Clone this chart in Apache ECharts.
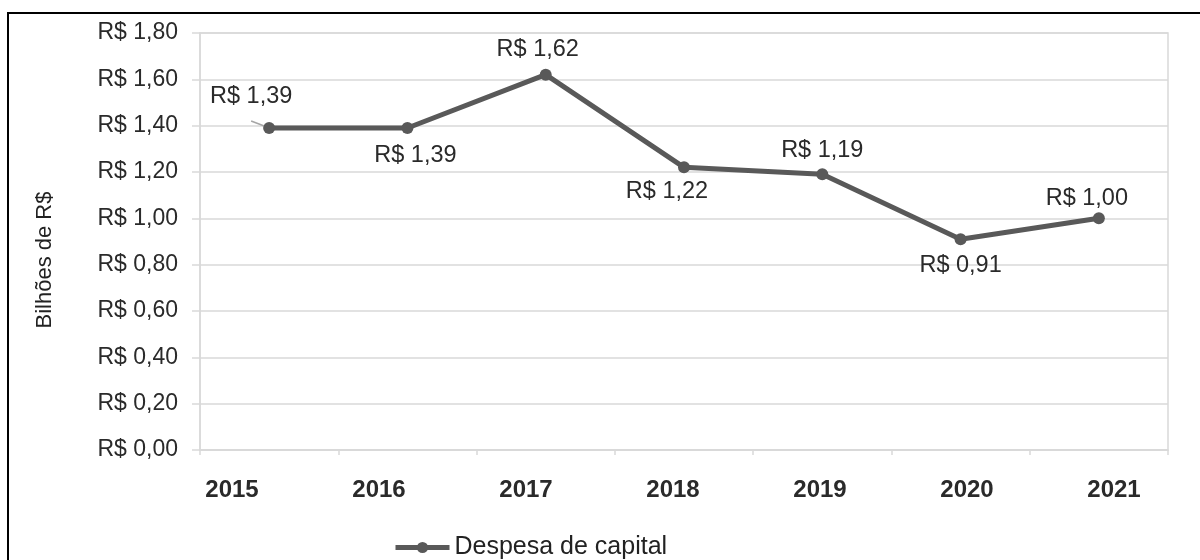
<!DOCTYPE html>
<html>
<head>
<meta charset="utf-8">
<script src="https://cdn.jsdelivr.net/npm/echarts@6/dist/echarts.min.js"></script>
<style>
html,body{margin:0;padding:0;background:#fff;}
#chart{width:1200px;height:560px;}
</style>
</head>
<body>
<div id="chart"></div>
<script>
const categories = ['2015', '2016', '2017', '2018', '2019', '2020', '2021'];
const despesaCapital = [1.39, 1.39, 1.62, 1.22, 1.19, 0.91, 1.00];
const seriesName = 'Despesa de capital';
const yAxisTitle = 'Bilhões de R$';
const yMin = 0, yMax = 1.8, yStep = 0.2;

const FONT = "'Liberation Sans', Arial, sans-serif";
const fmt = v => 'R$ ' + v.toFixed(2).replace('.', ',');

// label placement per point (style only)
const labelPlacement = [
  { position: 'top', offset: [-18, -8] },
  { position: 'bottom', offset: [8, 5] },
  { position: 'top', offset: [-8, -2] },
  { position: 'bottom', offset: [-17, 1] },
  { position: 'top', offset: [0, -1] },
  { position: 'bottom', offset: [0, 3] },
  { position: 'top', offset: [-12, 3] }
];

const chart = echarts.init(document.getElementById('chart'), null, { renderer: 'canvas' });

const seriesData = despesaCapital.map((v, i) => ({
  value: v,
  label: {
    position: labelPlacement[i].position,
    offset: labelPlacement[i].offset
  },
  labelLine: i === 0 ? { show: true, lineStyle: { color: '#a6a6a6', width: 1.5 } } : { show: false }
}));

chart.setOption({
  animation: false,
  backgroundColor: '#fff',
  textStyle: { fontFamily: FONT },
  graphic: [
    {
      type: 'rect', z: -10, silent: true,
      shape: { x: 8, y: 13, width: 1200, height: 600 },
      style: { fill: 'none', stroke: '#000', lineWidth: 2 }
    },
    {
      type: 'text', rotation: Math.PI / 2, x: 45, y: 260,
      style: {
        text: yAxisTitle, font: "22px " + FONT, fill: '#222',
        textAlign: 'center', textVerticalAlign: 'middle'
      }
    }
  ],
  grid: [
    { left: 200, right: 32, top: 33, bottom: 110, show: true, borderColor: '#d9d9d9', borderWidth: 1.5, containLabel: false },
    { left: 158.5, right: 12.5, top: 33, bottom: 110, show: false, containLabel: false }
  ],
  legend: {
    left: 388, top: 530,
    itemWidth: 54, itemHeight: 14,
    data: [seriesName],
    lineStyle: { width: 5, color: '#595959' },
    itemStyle: { color: '#595959' },
    textStyle: { fontSize: 25, color: '#222', fontFamily: FONT }
  },
  xAxis: [
    {
      gridIndex: 0, type: 'category', data: categories, boundaryGap: true,
      axisLine: { lineStyle: { color: '#d9d9d9', width: 1.5 } },
      axisTick: { show: true, length: 5, lineStyle: { color: '#d9d9d9', width: 1.5 } },
      axisLabel: { show: false },
      splitLine: { show: false }
    },
    {
      gridIndex: 1, type: 'category', data: categories, boundaryGap: true,
      axisLine: { show: false }, axisTick: { show: false }, splitLine: { show: false },
      axisLabel: { show: true, margin: 28, fontSize: 24, fontWeight: 'bold', color: '#2a2a2a', fontFamily: FONT }
    }
  ],
  yAxis: [
    {
      gridIndex: 0, type: 'value', min: yMin, max: yMax, interval: yStep,
      axisLine: { show: true, lineStyle: { color: '#d9d9d9', width: 1.5 } },
      axisTick: { show: true, length: 8, lineStyle: { color: '#d9d9d9', width: 1.5 } },
      splitLine: { show: true, lineStyle: { color: '#d9d9d9', width: 1.5 } },
      axisLabel: { margin: 22, fontSize: 23, color: '#2a2a2a', fontFamily: FONT, formatter: v => fmt(v) }
    },
    {
      gridIndex: 1, type: 'value', min: yMin, max: yMax, interval: yStep, show: false
    }
  ],
  series: [
    {
      name: seriesName, type: 'line', xAxisIndex: 0, yAxisIndex: 0,
      data: seriesData,
      symbol: 'circle', symbolSize: 12,
      lineStyle: { color: '#595959', width: 5 },
      itemStyle: { color: '#595959' },
      label: {
        show: true, fontSize: 23.5, color: '#2a2a2a', fontFamily: FONT,
        formatter: p => fmt(p.value)
      }
    }
  ]
});
</script>
</body>
</html>
